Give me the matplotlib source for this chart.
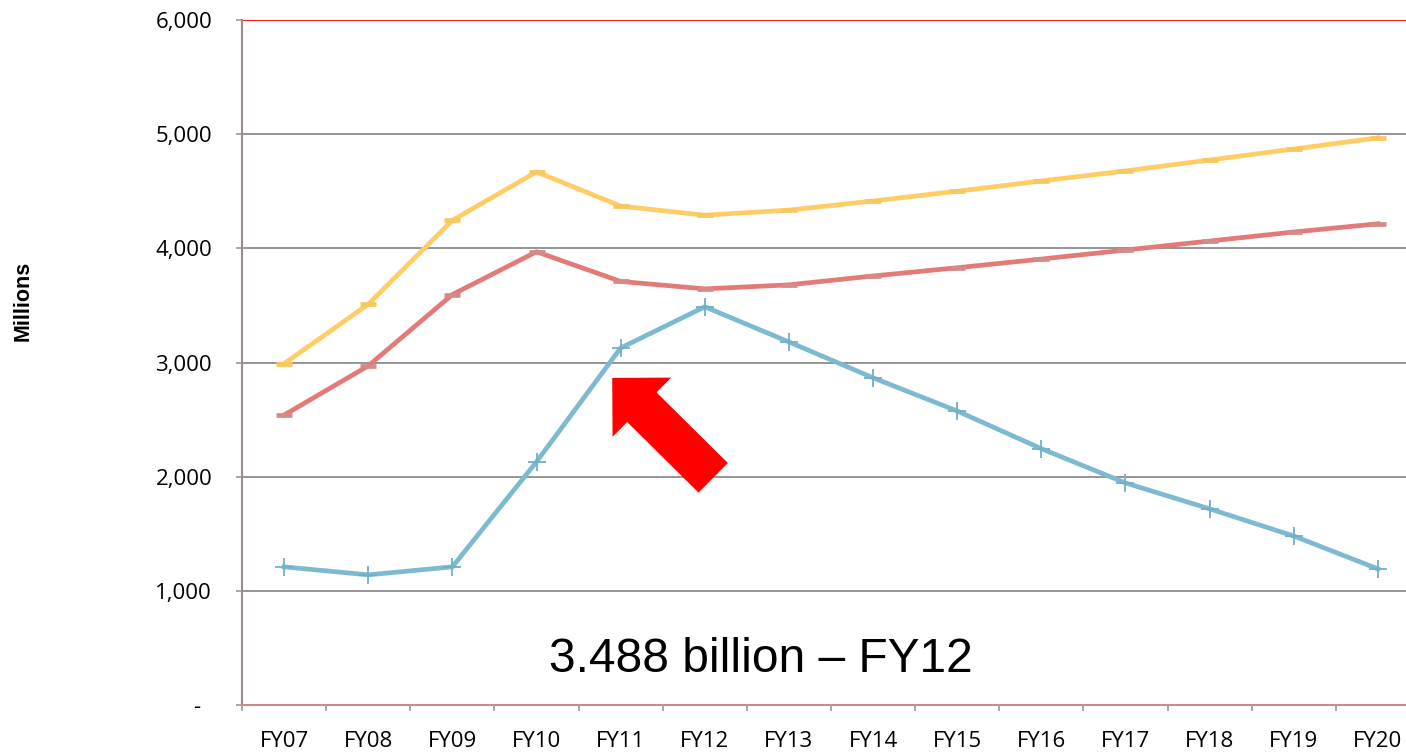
import matplotlib
matplotlib.use("Agg")
import matplotlib.pyplot as plt

years = ["FY07", "FY08", "FY09", "FY10", "FY11", "FY12", "FY13",
         "FY14", "FY15", "FY16", "FY17", "FY18", "FY19", "FY20"]
upper = [2990, 3510, 4245, 4670, 4370, 4290, 4335,
         4415, 4500, 4590, 4678, 4774, 4870, 4968]
middle = [2540, 2970, 3595, 3970, 3710, 3645, 3680,
          3758, 3830, 3906, 3985, 4064, 4143, 4215]
lower = [1210, 1140, 1210, 2130, 3127, 3488, 3180,
         2866, 2575, 2245, 1945, 1718, 1480, 1192]
yticks = [0, 1000, 2000, 3000, 4000, 5000, 6000]
ytick_labels = ["-  ", "1,000", "2,000", "3,000", "4,000", "5,000", "6,000"]

plt.rcParams['font.family'] = ['Liberation Sans', 'DejaVu Sans']

fig = plt.figure(figsize=(14.06, 7.52), dpi=100)
ax = fig.add_axes([242 / 1406, 47 / 752, 1178 / 1406, 685 / 752])

x = list(range(len(years)))
ax.plot(x, upper, color="#FFCC66", lw=3.4, marker="_", ms=11, mew=3.4,
        mec="#F8C860", zorder=3)
ax.plot(x, middle, color="#E47A78", lw=3.4, marker="_", ms=11, mew=3.4,
        mec="#D48A88", zorder=3)
ax.plot(x, lower, color="#7DBACF", lw=3.4, marker="+", ms=13, mew=1.3,
        mec="#70B0C8", zorder=3)

ax.set_xlim(-0.5, len(years) - 0.5)
ax.set_ylim(0, 6000)

tick_font = dict(family=["Open Sans", "DejaVu Sans"], size=16)
ax.set_yticks(yticks)
ax.set_yticklabels(ytick_labels, fontdict=tick_font)
ax.set_xticks(x)
ax.set_xticklabels(years, fontdict=tick_font)
ax.set_xticks([i - 0.5 for i in range(len(years) + 1)], minor=True)
ax.tick_params(axis="x", which="major", length=0, pad=19)
ax.tick_params(axis="x", which="minor", length=4.5, color="#999999", width=1.2)
ax.tick_params(axis="y", length=4.5, color="#999999", width=1.2, pad=17)

for v in yticks[1:-1]:
    ax.axhline(v, color="#8C8C8C", lw=1.3, zorder=1)
ax.axhline(6000, color="#FF0000", lw=1.3, zorder=1)

for side in ["top", "right"]:
    ax.spines[side].set_visible(False)
ax.spines["left"].set_color("#A08888")
ax.spines["left"].set_linewidth(1.5)
ax.spines["bottom"].set_color("#D08888")
ax.spines["bottom"].set_linewidth(1.5)

fig.text(23 / 1406, 1 - 301 / 752, "Millions", rotation=90, fontsize=15.5,
         fontweight="bold", ha="center", va="center")

ax.annotate("", xy=(3.9, 2865), xytext=(5.1, 1990),
            arrowprops=dict(arrowstyle="simple,head_length=30,head_width=60,tail_width=30",
                            mutation_scale=1, color="#FF0000", lw=0,
                            shrinkA=0, shrinkB=0))

ax.text(5.66, 400, "3.488 billion \u2013 FY12", fontsize=34.5,
        ha="center", va="center")

fig.savefig("out.png", dpi=100)
